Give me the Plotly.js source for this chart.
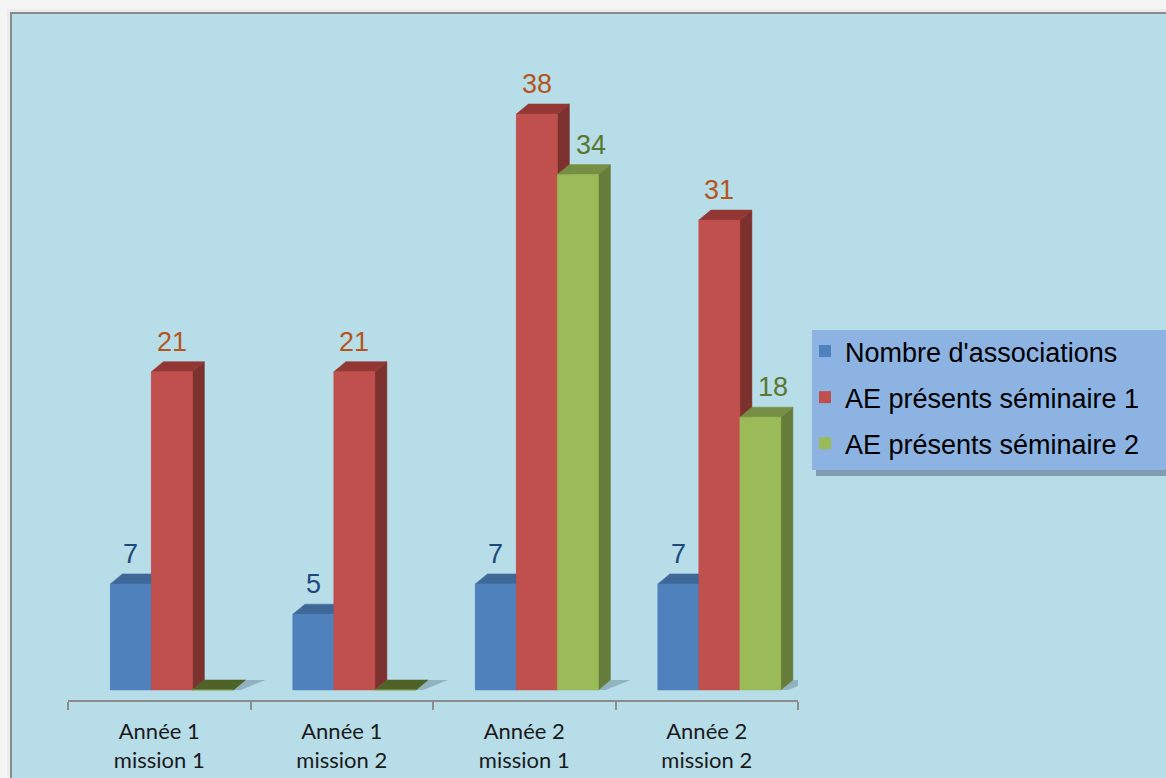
<!DOCTYPE html>
<html>
<head>
<meta charset="utf-8">
<script src="https://cdn.plot.ly/plotly-3.0.1.min.js"></script>
<style>html,body{margin:0;padding:0;background:#f5f5f5;}#chart{width:1166px;height:778px;}</style>
</head>
<body>
<div id="chart"></div>
<script>
// ---- data ----
const categories = ["Année 1<br>mission 1", "Année 1<br>mission 2", "Année 2<br>mission 1", "Année 2<br>mission 2"];
const seriesNames = ["Nombre d'associations", "AE présents séminaire 1", "AE présents séminaire 2"];
const nombreAssociations = [7, 5, 7, 7];
const seminaire1 = [21, 21, 38, 31];
const seminaire2 = [0, 0, 34, 18];

// ---- style ----
const seriesValues = [nombreAssociations, seminaire1, seminaire2];
const frontColors = ["#4f81bd", "#c0504d", "#9bbb59"];
const sideColors  = ["#385d8a", "#7d312f", "#667c3a"];
const topColors   = ["#3e6898", "#923734", "#778f45"];
const floorColors = ["#2c4a70", "#5c2220", "#4f6228"];
const labelColors = ["#1f497d", "#b4561c", "#5a7730"];
const labelDX = [0, 0, 0.07];
const W = 0.2247;               // bar width (category units)
const OFFS = [-0.268, -0.0433, 0.1814];
const DX = 0.066;               // depth (category units)
const DY = 0.66;                // depth (value units)

const ML = 68, MR = 368, MT = 20, MB = 78, FW = 1166, FH = 778;
const PW = FW - ML - MR, PH = FH - MT - MB;
const px = p => (p - ML) / PW;
const py = p => (FH - MB - p) / PH;

const traces = [];

// legend carriers (front faces as bars, drawn beneath polygons)
seriesValues.forEach((vals, s) => {
  traces.push({
    type: 'bar', name: seriesNames[s], x: vals.map((v, i) => i), y: vals,
    width: W, offset: OFFS[s], marker: {color: frontColors[s], line: {width: 0}},
    hoverinfo: 'skip', legendgroup: 'g' + s
  });
});

// floor shadows
(function () {
  const xs = [], ys = [];
  categories.forEach((c, i) => {
    const x1 = i + OFFS[2] + W;
    xs.push(x1, x1 + DX, x1 + DX + 0.11, x1 + 0.04, x1, null);
    ys.push(0, DY, DY, 0, 0, null);
  });
  traces.push({type: 'scatter', mode: 'lines', x: xs, y: ys, fill: 'toself',
    fillcolor: 'rgba(60,80,95,0.30)', line: {width: 0, color: 'rgba(0,0,0,0)'},
    hoverinfo: 'skip', showlegend: false});
})();

// 3D faces
seriesValues.forEach((vals, s) => {
  const side = {x: [], y: []}, top = {x: [], y: []}, floor = {x: [], y: []}, front = {x: [], y: []};
  vals.forEach((v, i) => {
    const x0 = i + OFFS[s], x1 = x0 + W;
    side.x.push(x1, x1 + DX, x1 + DX, x1, x1, null);
    side.y.push(0, DY, v + DY, v, 0, null);
    const t = v > 0 ? top : floor;
    t.x.push(x0, x0 + DX, x1 + DX, x1, x0, null);
    t.y.push(v, v + DY, v + DY, v, v, null);
    front.x.push(x0, x0, x1, x1, x0, null);
    front.y.push(0, v, v, 0, 0, null);
  });
  [[side, sideColors[s]], [floor, floorColors[s]], [top, topColors[s]], [front, frontColors[s]]].forEach(([f, col]) => {
    if (!f.x.length) return;
    traces.push({type: 'scatter', mode: 'lines', x: f.x, y: f.y, fill: 'toself',
      fillcolor: col, line: {width: 0.5, color: col}, hoverinfo: 'skip', showlegend: false});
  });
});

// data labels
const annotations = [];
seriesValues.forEach((vals, s) => {
  vals.forEach((v, i) => {
    if (v <= 0) return;
    annotations.push({x: i + OFFS[s] + W / 2 + labelDX[s], y: v, xref: 'x', yref: 'y',
      text: String(v), showarrow: false, yanchor: 'bottom', yshift: 13,
      font: {family: 'Liberation Sans, Arial, sans-serif', size: 27, color: labelColors[s]}});
  });
});

const shapes = [
  // frame shadow
  {type: 'rect', xref: 'paper', yref: 'paper', x0: px(7), x1: px(1180), y0: py(9), y1: py(800),
    fillcolor: '#ececec', line: {width: 0}, layer: 'below'},
  // frame
  {type: 'rect', xref: 'paper', yref: 'paper', x0: px(11), x1: px(1180), y0: py(13), y1: py(800),
    fillcolor: '#b7dde8', line: {width: 2, color: '#8a8a8a'}, layer: 'below'},
  // legend shadow + box
  {type: 'rect', xref: 'paper', yref: 'paper', x0: px(816), x1: px(1180), y0: py(334), y1: py(476),
    fillcolor: 'rgba(60,80,100,0.45)', line: {width: 0}, layer: 'below'},
  {type: 'rect', xref: 'paper', yref: 'paper', x0: px(812), x1: px(1180), y0: py(330), y1: py(470),
    fillcolor: '#8db3e2', line: {width: 0}, layer: 'below'}
];

const layout = {
  width: FW, height: FH,
  margin: {l: ML, r: MR, t: MT, b: MB, pad: 0},
  paper_bgcolor: '#f5f5f5', plot_bgcolor: 'rgba(0,0,0,0)',
  barmode: 'overlay', showlegend: true,
  xaxis: {range: [-0.5, 3.5], tickmode: 'array', tickvals: [0, 1, 2, 3], ticktext: categories,
    ticks: '', showline: true, linecolor: '#8c8c8c', linewidth: 2, showgrid: false, zeroline: false,
    ticklabelstandoff: 11,
    tickfont: {family: 'Lato, Open Sans, sans-serif', size: 22, color: '#1a1a1a'},
    minor: {tickmode: 'linear', tick0: -0.5, dtick: 1, ticks: 'outside', ticklen: 8,
      tickcolor: '#8c8c8c', tickwidth: 2, showgrid: false},
    fixedrange: true},
  yaxis: {range: [-0.66, 44.2], visible: false, fixedrange: true},
  legend: {x: px(805), y: py(327), xanchor: 'left', yanchor: 'top', bgcolor: 'rgba(0,0,0,0)',
    borderwidth: 0, traceorder: 'grouped', tracegroupgap: 8,
    font: {family: 'Liberation Sans, Arial, sans-serif', size: 27, color: '#000'}},
  shapes: shapes,
  annotations: annotations,
  hovermode: false
};

Plotly.newPlot('chart', traces, layout, {displayModeBar: false, staticPlot: true});
</script>
</body>
</html>
